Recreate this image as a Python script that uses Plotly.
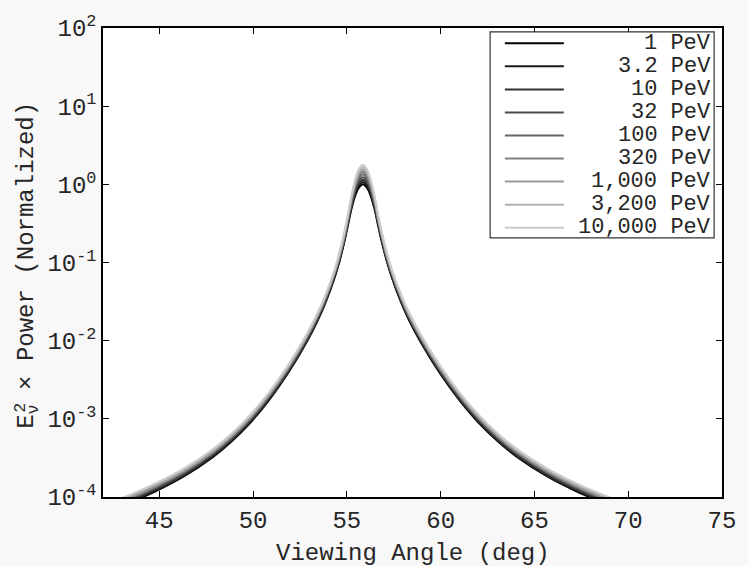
import plotly.graph_objects as go

# Viewing angles (deg) shared by all curves
angle_deg = [41.85, 43.35, 44.85, 46.35, 47.85, 48.85, 49.85, 50.85, 51.85, 52.85,
             53.45, 53.85, 54.35, 54.6, 54.85, 55.05, 55.25, 55.45, 55.65,
             55.85,
             56.06, 56.26, 56.47, 56.67, 56.88, 57.14, 57.40, 57.91, 58.32, 58.94,
             59.97, 61.00, 62.03, 63.06, 64.09, 65.64, 67.18, 68.73, 70.27]

energy_labels = ["1 PeV", "3.2 PeV", "10 PeV", "32 PeV", "100 PeV",
                 "320 PeV", "1,000 PeV", "3,200 PeV", "10,000 PeV"]

# log10 of E^2 x power (normalized) for each energy
log_power_1pev = [-4.21, -4.08, -3.92, -3.73, -3.49, -3.29, -3.05, -2.76, -2.42, -2.02,
                  -1.74, -1.52, -1.19, -0.99, -0.75, -0.53, -0.31, -0.14, -0.04,
                  0.00,
                  -0.04, -0.14, -0.31, -0.53, -0.75, -0.99, -1.19, -1.52, -1.74, -2.02,
                  -2.42, -2.76, -3.05, -3.29, -3.49, -3.73, -3.92, -4.08, -4.21]
log_power_3p2pev = [-4.20, -4.07, -3.91, -3.72, -3.48, -3.28, -3.04, -2.75, -2.41, -2.01,
                    -1.73, -1.51, -1.18, -0.98, -0.74, -0.51, -0.29, -0.11, -0.01,
                    0.03,
                    -0.01, -0.11, -0.29, -0.51, -0.74, -0.98, -1.18, -1.51, -1.73, -2.01,
                    -2.41, -2.75, -3.04, -3.28, -3.48, -3.72, -3.91, -4.07, -4.20]
log_power_10pev = [-4.19, -4.06, -3.90, -3.71, -3.47, -3.27, -3.03, -2.74, -2.40, -2.00,
                   -1.72, -1.50, -1.17, -0.96, -0.72, -0.50, -0.27, -0.09, 0.02,
                   0.06,
                   0.02, -0.09, -0.27, -0.50, -0.72, -0.96, -1.17, -1.50, -1.72, -2.00,
                   -2.40, -2.74, -3.03, -3.27, -3.47, -3.71, -3.90, -4.06, -4.19]
log_power_32pev = [-4.17, -4.04, -3.88, -3.69, -3.45, -3.25, -3.01, -2.72, -2.38, -1.98,
                   -1.70, -1.48, -1.15, -0.95, -0.71, -0.48, -0.25, -0.06, 0.05,
                   0.09,
                   0.05, -0.06, -0.25, -0.48, -0.71, -0.95, -1.15, -1.48, -1.70, -1.98,
                   -2.38, -2.72, -3.01, -3.25, -3.45, -3.69, -3.88, -4.04, -4.17]
log_power_100pev = [-4.16, -4.03, -3.87, -3.68, -3.44, -3.24, -3.00, -2.71, -2.37, -1.97,
                    -1.69, -1.47, -1.14, -0.94, -0.69, -0.46, -0.23, -0.04, 0.08,
                    0.13,
                    0.08, -0.04, -0.23, -0.46, -0.69, -0.94, -1.14, -1.47, -1.69, -1.97,
                    -2.37, -2.71, -3.00, -3.24, -3.44, -3.68, -3.87, -4.03, -4.16]
log_power_320pev = [-4.15, -4.02, -3.86, -3.67, -3.43, -3.23, -2.99, -2.70, -2.36, -1.96,
                    -1.68, -1.46, -1.13, -0.92, -0.68, -0.44, -0.20, -0.01, 0.11,
                    0.16,
                    0.11, -0.01, -0.20, -0.44, -0.68, -0.92, -1.13, -1.46, -1.68, -1.96,
                    -2.36, -2.70, -2.99, -3.23, -3.43, -3.67, -3.86, -4.02, -4.15]
log_power_1000pev = [-4.14, -4.01, -3.85, -3.66, -3.42, -3.22, -2.98, -2.69, -2.35, -1.95,
                     -1.67, -1.45, -1.12, -0.91, -0.66, -0.43, -0.18, 0.02, 0.14,
                     0.19,
                     0.14, 0.02, -0.18, -0.43, -0.66, -0.91, -1.12, -1.45, -1.67, -1.95,
                     -2.35, -2.69, -2.98, -3.22, -3.42, -3.66, -3.85, -4.01, -4.14]
log_power_3200pev = [-4.12, -3.99, -3.83, -3.64, -3.40, -3.20, -2.96, -2.67, -2.33, -1.93,
                     -1.65, -1.43, -1.10, -0.89, -0.65, -0.41, -0.16, 0.04, 0.17,
                     0.22,
                     0.17, 0.04, -0.16, -0.41, -0.65, -0.89, -1.10, -1.43, -1.65, -1.93,
                     -2.33, -2.67, -2.96, -3.20, -3.40, -3.64, -3.83, -3.99, -4.12]
log_power_10000pev = [-4.11, -3.98, -3.82, -3.63, -3.39, -3.19, -2.95, -2.66, -2.32, -1.92,
                      -1.64, -1.42, -1.09, -0.88, -0.63, -0.39, -0.14, 0.07, 0.20,
                      0.25,
                      0.20, 0.07, -0.14, -0.39, -0.63, -0.88, -1.09, -1.42, -1.64, -1.92,
                      -2.32, -2.66, -2.95, -3.19, -3.39, -3.63, -3.82, -3.98, -4.11]

log_power_series = [log_power_1pev, log_power_3p2pev, log_power_10pev, log_power_32pev,
                    log_power_100pev, log_power_320pev, log_power_1000pev,
                    log_power_3200pev, log_power_10000pev]

line_colors = ["#000000", "#1a1a1a", "#333333", "#4d4d4d", "#666666",
               "#808080", "#999999", "#b3b3b3", "#cccccc"]

x_ticks = [45, 50, 55, 60, 65, 70, 75]
y_exponents = [-4, -3, -2, -1, 0, 1, 2]

FONT = "Liberation Mono, Courier New, monospace"
FS = 24          # axis numbers and titles
FS_LEG = 22      # legend entries
TEXT_COLOR = "#262626"

W, H = 748, 566
ML, MR, MT, MB = 103, 15, 21, 69
PW, PH = W - ML - MR, H - MT - MB


def px_x(px):
    return (px - ML) / PW


def px_y(py):
    return (H - MB - py) / PH


fig = go.Figure()
for label, logs, color in zip(energy_labels, log_power_series, line_colors):
    fig.add_trace(go.Scatter(
        x=angle_deg, y=[10 ** v for v in logs], mode="lines", name=label,
        line=dict(color=color, width=2, shape="spline", smoothing=1.0),
        showlegend=False, hoverinfo="skip"))

axis_common = dict(showline=True, linecolor="black", linewidth=1.5, mirror="allticks",
                   ticks="inside", ticklen=6, tickwidth=1, tickcolor="black",
                   showgrid=False, zeroline=False,
                   tickfont=dict(family=FONT, size=FS, color=TEXT_COLOR))

fig.update_xaxes(range=[42, 75], tickvals=x_ticks,
                 ticktext=[str(t) for t in x_ticks], **axis_common)
fig.update_yaxes(type="log", range=[-4, 2], tickvals=[10.0 ** e for e in y_exponents],
                 ticktext=["10<sup>%d</sup>" % e for e in y_exponents], **axis_common)

# Legend box drawn by hand so entries can be right-aligned
shapes = [dict(type="rect", xref="paper", yref="paper",
               x0=px_x(497), x1=px_x(725), y0=px_y(234), y1=px_y(25),
               fillcolor="white", line=dict(color="#333333", width=1.2), layer="above")]
annotations = []
row0, row_step = 36.5, 23.4
for i, (label, color) in enumerate(zip(energy_labels, line_colors)):
    ry = row0 + i * row_step
    shapes.append(dict(type="line", xref="paper", yref="paper",
                       x0=px_x(512), x1=px_x(572), y0=px_y(ry), y1=px_y(ry),
                       line=dict(color=color, width=2), layer="above"))
    annotations.append(dict(xref="paper", yref="paper", x=px_x(724), y=px_y(ry),
                            xanchor="right", yanchor="middle", showarrow=False,
                            text=label, font=dict(family=FONT, size=FS_LEG, color=TEXT_COLOR)))

annotations.append(dict(xref="paper", yref="paper", x=px_x(418), y=px_y(554),
                        xanchor="center", yanchor="middle", showarrow=False,
                        text="Viewing Angle (deg)",
                        font=dict(family=FONT, size=FS, color=TEXT_COLOR)))

# y title: E with subscript nu; the exponent 2 is stacked over the nu
title_cy = 262
annotations.append(dict(xref="paper", yref="paper", x=px_x(27), y=px_y(title_cy),
                        xanchor="center", yanchor="middle", showarrow=False, textangle=-90,
                        text="E<sub>ν</sub> × Power (Normalized)",
                        font=dict(family=FONT, size=FS, color=TEXT_COLOR)))
annotations.append(dict(xref="paper", yref="paper", x=px_x(19), y=px_y(406),
                        xanchor="center", yanchor="middle", showarrow=False, textangle=-90,
                        text="2",
                        font=dict(family=FONT, size=FS * 0.7, color=TEXT_COLOR)))

fig.update_layout(width=W, height=H, margin=dict(l=ML, r=MR, t=MT, b=MB),
                  paper_bgcolor="#f8f8f8", plot_bgcolor="white",
                  shapes=shapes, annotations=annotations, showlegend=False)

fig.write_html("out.html")
